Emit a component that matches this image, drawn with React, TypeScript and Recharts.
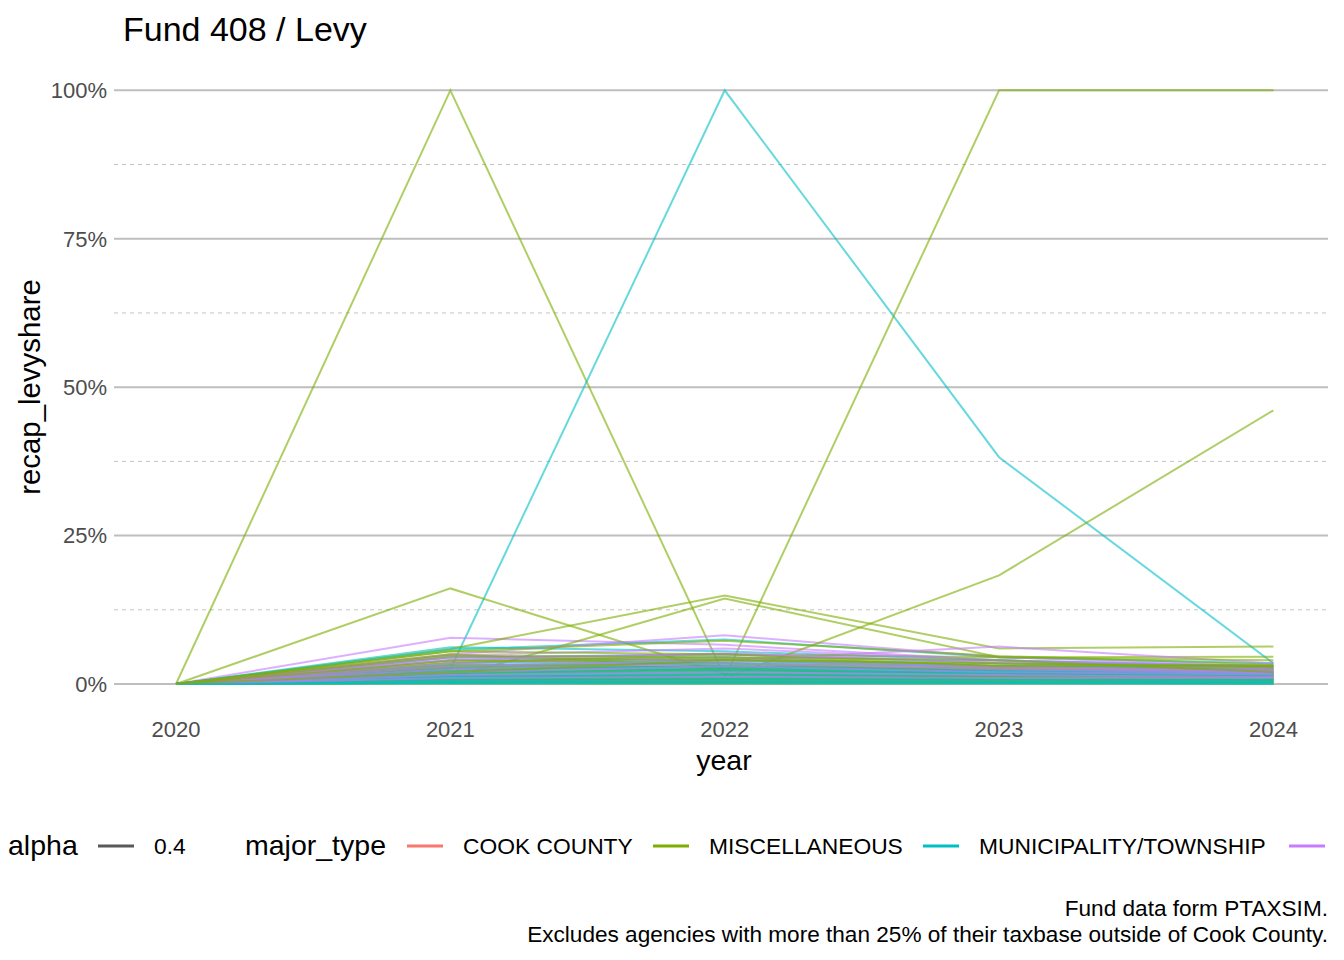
import React from 'react';
import { LineChart, Line, XAxis, YAxis, ReferenceLine } from 'recharts';

const YEARS = [2020, 2021, 2022, 2023, 2024];
const Y_TICKS = [0, 0.25, 0.5, 0.75, 1];
const Y_MINOR = [0.125, 0.375, 0.625, 0.875];

const TYPE_COLORS: Record<string, string> = {
  'COOK COUNTY': '#F8766D',
  MISCELLANEOUS: '#7CAE00',
  'MUNICIPALITY/TOWNSHIP': '#00BFC4',
  SCHOOL: '#C77CFF',
};

// recap_levyshare per agency, one value per year (2020..2024)
const COOK_COUNTY = [
  [0, 0.02, 0.025, 0.018, 0.015],
  [0, 0.01, 0.012, 0.01, 0.008],
  [0, 0.004, 0.005, 0.004, 0.003],
];

const MISCELLANEOUS = [
  [0, 1.0, 0.012, 0.01, 0.008],
  [0, 0.006, 0.01, 1.0, 1.0],
  [0, 0.161, 0.017, 0.012, 0.01],
  [0, 0.059, 0.149, 0.06, 0.063],
  [0, 0.01, 0.144, 0.045, 0.046],
  [0, 0.004, 0.01, 0.183, 0.461],
  [0, 0.055, 0.073, 0.047, 0.033],
  [0, 0.05, 0.03, 0.025, 0.02],
  [0, 0.045, 0.04, 0.03, 0.025],
  [0, 0.04, 0.035, 0.02, 0.018],
  [0, 0.035, 0.05, 0.045, 0.04],
  [0, 0.032, 0.028, 0.022, 0.02],
  [0, 0.03, 0.034, 0.028, 0.024],
  [0, 0.028, 0.03, 0.02, 0.015],
  [0, 0.026, 0.027, 0.024, 0.021],
  [0, 0.024, 0.029, 0.026, 0.023],
  [0, 0.022, 0.024, 0.019, 0.017],
  [0, 0.02, 0.022, 0.018, 0.016],
  [0, 0.018, 0.025, 0.015, 0.012],
  [0, 0.017, 0.02, 0.016, 0.014],
  [0, 0.015, 0.012, 0.01, 0.009],
  [0, 0.014, 0.018, 0.014, 0.013],
  [0, 0.012, 0.014, 0.011, 0.01],
  [0, 0.011, 0.016, 0.013, 0.012],
  [0, 0.01, 0.008, 0.007, 0.006],
  [0, 0.009, 0.011, 0.009, 0.008],
  [0, 0.008, 0.01, 0.012, 0.011],
  [0, 0.007, 0.009, 0.008, 0.007],
  [0, 0.006, 0.005, 0.004, 0.004],
  [0, 0.005, 0.007, 0.006, 0.005],
  [0, 0.004, 0.006, 0.005, 0.003],
  [0, 0.003, 0.002, 0.002, 0.002],
  [0, 0.002, 0.003, 0.003, 0.001],
  [0, 0.001, 0.001, 0.001, 0.001],
  [0, 0.055, 0.05, 0.03, 0.032],
  [0, 0.048, 0.045, 0.04, 0.02],
  [0, 0.02, 0.04, 0.035, 0.03],
  [0, 0.038, 0.042, 0.033, 0.028],
];

const MUNICIPALITY = [
  [0, 0.025, 1.0, 0.382, 0.035],
  [0, 0.062, 0.055, 0.04, 0.03],
  [0, 0.058, 0.075, 0.045, 0.035],
  [0, 0.045, 0.05, 0.035, 0.03],
  [0, 0.04, 0.045, 0.03, 0.028],
  [0, 0.035, 0.04, 0.028, 0.025],
  [0, 0.032, 0.036, 0.03, 0.026],
  [0, 0.03, 0.035, 0.025, 0.022],
  [0, 0.027, 0.031, 0.024, 0.021],
  [0, 0.025, 0.03, 0.022, 0.02],
  [0, 0.022, 0.027, 0.021, 0.019],
  [0, 0.02, 0.025, 0.02, 0.018],
  [0, 0.017, 0.022, 0.018, 0.016],
  [0, 0.015, 0.02, 0.017, 0.015],
  [0, 0.013, 0.017, 0.014, 0.013],
  [0, 0.012, 0.015, 0.012, 0.012],
  [0, 0.01, 0.012, 0.01, 0.009],
  [0, 0.008, 0.01, 0.008, 0.007],
  [0, 0.006, 0.008, 0.007, 0.006],
  [0, 0.005, 0.006, 0.005, 0.004],
  [0, 0.003, 0.004, 0.003, 0.003],
  [0, 0.002, 0.003, 0.002, 0.002],
  [0, 0.001, 0.001, 0.001, 0.0],
];

const SCHOOL = [
  [0, 0.078, 0.066, 0.04, 0.028],
  [0, 0.05, 0.082, 0.045, 0.03],
  [0, 0.03, 0.04, 0.063, 0.035],
  [0, 0.048, 0.06, 0.04, 0.03],
  [0, 0.044, 0.05, 0.038, 0.027],
  [0, 0.04, 0.052, 0.035, 0.025],
  [0, 0.035, 0.045, 0.03, 0.022],
  [0, 0.03, 0.04, 0.028, 0.02],
  [0, 0.025, 0.035, 0.025, 0.018],
  [0, 0.02, 0.03, 0.02, 0.016],
  [0, 0.015, 0.02, 0.015, 0.012],
  [0, 0.01, 0.012, 0.01, 0.01],
];

const LEGEND_TYPES = ['COOK COUNTY', 'MISCELLANEOUS', 'MUNICIPALITY/TOWNSHIP', 'SCHOOL'];

const groups = [
  { type: 'COOK COUNTY', prefix: 'cc', rows: COOK_COUNTY },
  { type: 'MISCELLANEOUS', prefix: 'misc', rows: MISCELLANEOUS },
  { type: 'MUNICIPALITY/TOWNSHIP', prefix: 'muni', rows: MUNICIPALITY },
  { type: 'SCHOOL', prefix: 'sch', rows: SCHOOL },
];

// spread each type's agencies evenly through the drawing order
const series = groups
  .flatMap(g =>
    g.rows.map((values, i) => ({ key: `${g.prefix}${i}`, type: g.type, values, order: (i + 0.5) / g.rows.length }))
  )
  .sort((a, b) => a.order - b.order);

const data = YEARS.map((year, i) => {
  const row: any = { year };
  series.forEach(s => {
    row[s.key] = s.values[i];
  });
  return row;
});

const FONT = '"Liberation Sans", Arial, sans-serif';

const App: React.FC = () => {
  return (
    <div style={{ position: 'relative', width: 1344, height: 960, fontFamily: FONT, background: '#fff' }}>
      <style>{'body { margin: 0; }'}</style>
      <div style={{ position: 'absolute', left: 0, top: 0 }}>
        <LineChart width={1344} height={760} data={data} margin={{ top: 60.6, right: 16, left: 0, bottom: 0 }}>
          {Y_TICKS.map(v => (
            <ReferenceLine key={`maj${v}`} y={v} stroke="#bebebe" strokeWidth={2} />
          ))}
          {Y_MINOR.map(v => (
            <ReferenceLine key={`min${v}`} y={v} stroke="#c4c4c4" strokeWidth={1} strokeDasharray="4 4" />
          ))}
          <XAxis
            dataKey="year"
            type="number"
            domain={[2019.774, 2024.199]}
            ticks={YEARS}
            allowDataOverflow
            axisLine={false}
            tickLine={false}
            tickSize={0}
            tickMargin={8}
            height={46.3}
            tick={{ fill: '#4d4d4d', fontSize: 22, fontFamily: FONT }}
          />
          <YAxis
            type="number"
            domain={[-0.05, 1.05]}
            ticks={Y_TICKS}
            allowDataOverflow
            axisLine={false}
            tickLine={false}
            tickSize={0}
            tickMargin={7}
            width={114}
            tickFormatter={(v: number) => `${Math.round(v * 100)}%`}
            tick={{ fill: '#4d4d4d', fontSize: 22, fontFamily: FONT }}
          />
          {series.map(s => (
            <Line
              key={s.key}
              dataKey={s.key}
              type="linear"
              stroke={TYPE_COLORS[s.type]}
              strokeOpacity={0.6}
              strokeWidth={2}
              dot={false}
              activeDot={false}
              isAnimationActive={false}
            />
          ))}
        </LineChart>
      </div>
      <svg width={1344} height={960} style={{ position: 'absolute', left: 0, top: 0, pointerEvents: 'none' }}>
        <text x={123} y={41} fontSize={34} fill="#000" fontFamily={FONT}>
          Fund 408 / Levy
        </text>
        <text x={40} y={387} fontSize={29.4} fill="#000" fontFamily={FONT} textAnchor="middle" transform="rotate(-90 40 387)">
          recap_levyshare
        </text>
        <text x={724} y={770} fontSize={28.5} fill="#000" fontFamily={FONT} textAnchor="middle">
          year
        </text>

        <text x={8} y={855} fontSize={28.5} fill="#000" fontFamily={FONT}>alpha</text>
        <line x1={98} x2={134} y1={846} y2={846} stroke="#595959" strokeWidth={3} />
        <text x={154} y={854} fontSize={22.8} fill="#000" fontFamily={FONT}>0.4</text>
        <text x={245} y={855} fontSize={28.5} fill="#000" fontFamily={FONT}>major_type</text>
        {LEGEND_TYPES.map((t, i) => {
          const keyX = [407, 653, 923, 1289][i];
          return (
            <g key={t}>
              <line x1={keyX} x2={keyX + 36} y1={846} y2={846} stroke={TYPE_COLORS[t]} strokeWidth={3} />
              {keyX + 56 < 1344 - 100 && (
                <text x={keyX + 56} y={854} fontSize={22.8} fill="#000" fontFamily={FONT}>{t}</text>
              )}
            </g>
          );
        })}

        <text x={1328} y={916} fontSize={22.6} fill="#000" fontFamily={FONT} textAnchor="end">
          Fund data form PTAXSIM.
        </text>
        <text x={1328} y={942} fontSize={22.6} fill="#000" fontFamily={FONT} textAnchor="end">
          Excludes agencies with more than 25% of their taxbase outside of Cook County.
        </text>
      </svg>
    </div>
  );
};

export default App;
